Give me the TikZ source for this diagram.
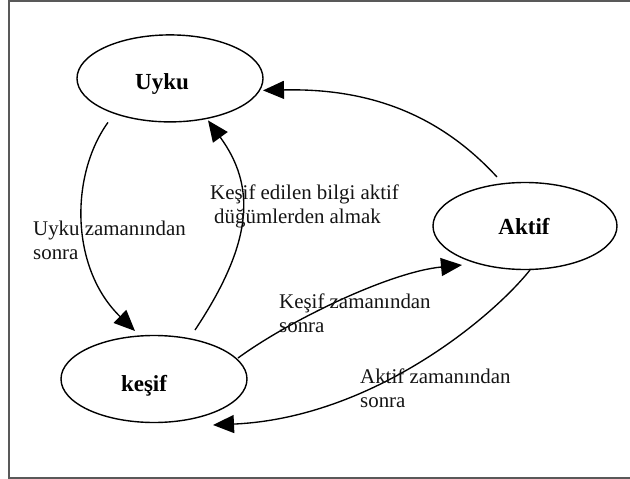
\documentclass[tikz,border=0pt]{standalone}
\usepackage{fontspec}
\setmainfont{Liberation Serif}
\usetikzlibrary{shapes.geometric,arrows.meta}
\begin{document}
\begin{tikzpicture}[x=1pt,y=-1pt,
  state/.style={draw, ellipse, line width=1.4pt, inner sep=0pt, minimum width=186pt, minimum height=87pt},
  statetext/.style={font=\fontsize{23}{27}\selectfont\bfseries, anchor=base, inner sep=0pt, text=black},
  edgelabel/.style={font=\fontsize{20.9}{23.5}\selectfont, align=left, anchor=north west, inner sep=0pt, text=black!92},
  conn/.style={line width=1.35pt, -{Triangle[length=21pt,width=18pt]}}]
\useasboundingbox (0,0) rectangle (630,479);
\draw[line width=1.5pt, black!65] (630,0.75) -- (9,0.75) -- (9,478.2) -- (630,478.2);

\node[state] (uyku) at (170,78.4) {};
\node[state, minimum width=184pt] (aktif) at (525,226) {};
\node[state] (kesif) at (154,379) {};

\node[statetext] (uykut) at (162,89) {Uyku};
\node[statetext] (aktift) at (524,234) {Aktif};
\node[statetext] (kesift) at (144,391.5) {keşif};

\draw[conn] ([shift={(-62,44)}]uyku.center) .. controls (70,175) and (70,268) .. ([shift={(-19,-48)}]kesif.center);
\draw[conn] ([shift={(41,-49)}]kesif.center) .. controls (255,240) and (255,185) .. ([shift={(38,42)}]uyku.center);
\draw[conn] ([shift={(-28,-49)}]aktif.center) .. controls (440,115) and (370,88) .. ([shift={(93,12)}]uyku.center);
\draw[conn] ([shift={(84,-21)}]kesif.center) .. controls (290,320) and (390,272) .. ([shift={(-63,39)}]aktif.center);
\draw[conn] ([shift={(5,44)}]aktif.center) .. controls (490,320) and (370,418) .. ([shift={(59,46)}]kesif.center);

\node[edgelabel] (l1) at (33,221) {Uyku zamanından\\sonra};
\node[edgelabel] (l2) at (210,185) {Keşif edilen bilgi aktif\\\hspace{4pt}düğümlerden almak};
\node[edgelabel] (l3) at (279,294) {Keşif zamanından\\sonra};
\node[edgelabel] (l4) at (360,369) {Aktif zamanından\\sonra};
\end{tikzpicture}
\end{document}
